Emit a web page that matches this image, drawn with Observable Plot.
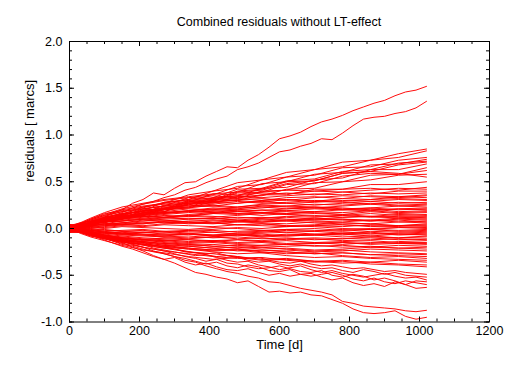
<!DOCTYPE html>
<html><head><meta charset="utf-8">
<script src="https://cdn.jsdelivr.net/npm/d3@7"></script>
<script src="https://cdn.jsdelivr.net/npm/@observablehq/plot@0.6"></script>
<style>
body{margin:0;background:#fff;font-family:"Liberation Sans",Arial,sans-serif;}
#title{width:532px;height:30px;box-sizing:border-box;padding:14px 43px 0 69px;line-height:16px;text-align:center;font-size:12.5px;color:#000;}
</style></head>
<body>
<div id="title">Combined residuals without LT-effect</div>
<div id="chart"></div>
<script>
// time grids (days)
const days = [0,30,60,100,150,210,270,340,410,480,550,620,700,780,860,940,1020];
const daysFine = [0,30,60,90,120,150,180,210,240,270,300,330,360,390,420,450,480,510,540,570,600,630,660,690,720,750,780,810,840,870,900,930,960,990,1020];

// outer lines, sampled on daysFine
const top1 = [0.01,0.03,0.05,0.10,0.16,0.20,0.27,0.31,0.38,0.36,0.43,0.49,0.50,0.56,0.61,0.66,0.65,0.73,0.79,0.87,0.96,0.99,1.03,1.09,1.14,1.17,1.21,1.26,1.30,1.34,1.37,1.42,1.46,1.48,1.52];
const top2 = [0.00,0.02,0.04,0.09,0.13,0.17,0.22,0.26,0.29,0.33,0.36,0.41,0.44,0.49,0.53,0.56,0.63,0.66,0.70,0.76,0.82,0.84,0.88,0.91,0.96,0.95,1.02,1.10,1.17,1.19,1.20,1.23,1.25,1.29,1.36];
const bottom1 = [-0.01,-0.02,-0.05,-0.08,-0.12,-0.15,-0.20,-0.24,-0.29,-0.33,-0.37,-0.42,-0.47,-0.49,-0.52,-0.54,-0.58,-0.56,-0.62,-0.68,-0.67,-0.69,-0.68,-0.71,-0.72,-0.76,-0.80,-0.86,-0.90,-0.91,-0.90,-0.88,-0.94,-0.97,-0.95];
const bottom2 = [0.00,-0.02,-0.04,-0.07,-0.10,-0.13,-0.17,-0.20,-0.24,-0.27,-0.30,-0.34,-0.36,-0.40,-0.43,-0.46,-0.48,-0.51,-0.53,-0.57,-0.58,-0.61,-0.64,-0.66,-0.68,-0.71,-0.78,-0.80,-0.83,-0.84,-0.85,-0.86,-0.88,-0.89,-0.875];
const low1 = [-0.02,-0.04,-0.07,-0.11,-0.15,-0.19,-0.22,-0.26,-0.30,-0.33,-0.31,-0.36,-0.39,-0.37,-0.41,-0.44,-0.45,-0.43,-0.47,-0.50,-0.48,-0.51,-0.49,-0.48,-0.52,-0.55,-0.53,-0.58,-0.61,-0.59,-0.62,-0.57,-0.60,-0.64,-0.63];
const low2 = [0.01,-0.03,-0.05,-0.09,-0.13,-0.17,-0.19,-0.22,-0.25,-0.27,-0.30,-0.32,-0.35,-0.38,-0.36,-0.40,-0.42,-0.39,-0.41,-0.45,-0.46,-0.44,-0.49,-0.51,-0.49,-0.47,-0.50,-0.54,-0.56,-0.53,-0.57,-0.59,-0.56,-0.58,-0.60];
const low3 = [-0.01,-0.02,-0.05,-0.08,-0.11,-0.14,-0.17,-0.20,-0.22,-0.24,-0.27,-0.30,-0.32,-0.35,-0.33,-0.37,-0.38,-0.41,-0.43,-0.42,-0.40,-0.43,-0.46,-0.47,-0.45,-0.50,-0.52,-0.49,-0.51,-0.55,-0.53,-0.56,-0.60,-0.56,-0.57];
const low4 = [0.03,0.00,-0.03,-0.07,-0.10,-0.13,-0.15,-0.17,-0.21,-0.23,-0.25,-0.27,-0.29,-0.28,-0.31,-0.34,-0.36,-0.35,-0.39,-0.41,-0.44,-0.42,-0.40,-0.44,-0.47,-0.45,-0.48,-0.50,-0.52,-0.50,-0.48,-0.51,-0.53,-0.52,-0.55];
const low5 = [0.00,-0.02,-0.04,-0.06,-0.09,-0.11,-0.13,-0.15,-0.18,-0.20,-0.22,-0.25,-0.26,-0.28,-0.30,-0.29,-0.31,-0.34,-0.36,-0.35,-0.38,-0.40,-0.38,-0.41,-0.43,-0.42,-0.45,-0.47,-0.44,-0.46,-0.49,-0.47,-0.50,-0.51,-0.52];
const low6 = [-0.03,-0.03,-0.05,-0.08,-0.10,-0.12,-0.15,-0.17,-0.19,-0.21,-0.22,-0.24,-0.26,-0.27,-0.26,-0.29,-0.30,-0.32,-0.31,-0.34,-0.36,-0.37,-0.35,-0.38,-0.40,-0.39,-0.41,-0.43,-0.42,-0.44,-0.46,-0.45,-0.47,-0.48,-0.49];

// remaining lines, sampled on days
const upper1 = [0.01,0.04,0.05,0.12,0.15,0.23,0.27,0.36,0.40,0.49,0.52,0.60,0.63,0.71,0.73,0.80,0.85];
const upper2 = [0.00,0.01,0.06,0.08,0.15,0.19,0.28,0.31,0.40,0.43,0.52,0.55,0.63,0.66,0.73,0.76,0.83];
const upper3 = [-0.01,0.03,0.04,0.11,0.13,0.21,0.24,0.33,0.36,0.45,0.47,0.55,0.57,0.65,0.66,0.73,0.76];
const upper4 = [0.02,0.02,0.06,0.07,0.14,0.16,0.25,0.28,0.37,0.39,0.48,0.50,0.58,0.60,0.68,0.69,0.74];
const upper5 = [0.00,0.03,0.03,0.09,0.11,0.19,0.21,0.30,0.33,0.42,0.43,0.51,0.53,0.61,0.63,0.70,0.72];
const upper6 = [-0.02,0.02,0.03,0.08,0.10,0.17,0.20,0.28,0.30,0.39,0.41,0.48,0.51,0.59,0.61,0.68,0.71];
const upper7 = [0.01,0.02,0.07,0.08,0.13,0.15,0.22,0.25,0.33,0.35,0.43,0.44,0.52,0.54,0.63,0.63,0.69];
const upper8 = [0.00,0.03,0.03,0.09,0.10,0.17,0.18,0.27,0.29,0.38,0.39,0.47,0.48,0.56,0.59,0.58,0.65];
const upper9 = [-0.01,0.01,0.05,0.06,0.12,0.14,0.21,0.23,0.31,0.32,0.40,0.41,0.49,0.50,0.57,0.58,0.62];
const upper10 = [0.01,0.03,0.04,0.10,0.11,0.19,0.20,0.29,0.31,0.40,0.42,0.50,0.51,0.59,0.61,0.59,0.55];
const upper11 = [0.00,0.02,0.06,0.06,0.12,0.14,0.20,0.22,0.29,0.30,0.36,0.36,0.42,0.42,0.47,0.47,0.50];
const upper12 = [-0.01,0.02,0.02,0.09,0.10,0.17,0.18,0.26,0.27,0.34,0.35,0.42,0.43,0.50,0.52,0.57,0.58];

const core01 = [0.03,0.06,0.11,0.17,0.23,0.27,0.31,0.34,0.37,0.36,0.39,0.41,0.40,0.42,0.43,0.41,0.44];
const core02 = [0.00,0.05,0.10,0.15,0.21,0.26,0.30,0.33,0.32,0.35,0.38,0.37,0.40,0.39,0.41,0.43,0.42];
const core03 = [-0.03,0.04,0.09,0.14,0.20,0.24,0.27,0.31,0.35,0.33,0.36,0.38,0.36,0.39,0.37,0.40,0.40];
const core04 = [0.02,0.06,0.08,0.13,0.18,0.22,0.28,0.30,0.31,0.34,0.33,0.35,0.37,0.36,0.38,0.37,0.38];
const core05 = [0.04,0.04,0.07,0.12,0.16,0.21,0.24,0.27,0.30,0.32,0.30,0.33,0.34,0.32,0.35,0.34,0.36];
const core06 = [0.01,0.05,0.10,0.16,0.19,0.23,0.26,0.29,0.28,0.31,0.32,0.30,0.33,0.35,0.34,0.33,0.35];
const core07 = [-0.04,0.03,0.07,0.11,0.15,0.19,0.22,0.26,0.28,0.27,0.30,0.31,0.29,0.32,0.31,0.34,0.33];
const core08 = [0.01,0.04,0.06,0.12,0.16,0.18,0.23,0.24,0.26,0.29,0.27,0.28,0.30,0.29,0.31,0.32,0.31];
const core09 = [0.00,0.05,0.08,0.10,0.14,0.20,0.21,0.25,0.24,0.27,0.29,0.27,0.28,0.30,0.29,0.31,0.30];
const core10 = [-0.03,0.02,0.06,0.11,0.13,0.17,0.20,0.22,0.25,0.23,0.26,0.27,0.25,0.27,0.29,0.27,0.28];
const core11 = [0.02,0.05,0.09,0.14,0.18,0.21,0.24,0.27,0.29,0.30,0.28,0.31,0.29,0.28,0.26,0.28,0.27];
const core12 = [0.00,0.03,0.05,0.09,0.12,0.15,0.18,0.21,0.20,0.23,0.25,0.24,0.26,0.25,0.27,0.25,0.26];
const core13 = [0.01,0.04,0.06,0.08,0.13,0.16,0.17,0.19,0.22,0.21,0.24,0.23,0.22,0.24,0.26,0.24,0.25];
const core14 = [0.03,0.02,0.07,0.10,0.14,0.13,0.16,0.19,0.21,0.20,0.22,0.24,0.23,0.21,0.22,0.24,0.23];
const core15 = [0.01,0.03,0.04,0.08,0.11,0.14,0.16,0.18,0.17,0.20,0.19,0.21,0.23,0.22,0.20,0.21,0.22];
const core16 = [0.00,0.04,0.06,0.07,0.10,0.12,0.15,0.17,0.19,0.18,0.20,0.19,0.21,0.20,0.22,0.20,0.21];
const core17 = [-0.04,0.01,0.04,0.08,0.09,0.11,0.14,0.13,0.16,0.18,0.17,0.19,0.18,0.20,0.19,0.21,0.20];
const core18 = [0.01,0.05,0.08,0.12,0.15,0.18,0.21,0.23,0.24,0.22,0.23,0.21,0.22,0.20,0.21,0.18,0.19];
const core19 = [0.00,0.02,0.03,0.05,0.08,0.10,0.12,0.14,0.16,0.15,0.17,0.16,0.18,0.17,0.19,0.17,0.18];
const core20 = [0.04,0.03,0.05,0.07,0.10,0.13,0.12,0.15,0.17,0.16,0.14,0.16,0.17,0.15,0.18,0.16,0.17];
const core21 = [0.00,0.02,0.04,0.07,0.08,0.10,0.11,0.13,0.12,0.14,0.16,0.15,0.13,0.14,0.16,0.14,0.15];
const core22 = [-0.01,0.03,0.05,0.09,0.12,0.14,0.17,0.18,0.20,0.19,0.17,0.18,0.16,0.15,0.13,0.15,0.14];
const core23 = [0.04,0.02,0.03,0.04,0.06,0.08,0.10,0.11,0.10,0.12,0.11,0.13,0.12,0.14,0.12,0.13,0.13];
const core24 = [0.00,0.01,0.03,0.05,0.06,0.09,0.08,0.10,0.11,0.09,0.11,0.12,0.10,0.12,0.13,0.11,0.12];
const core25 = [0.01,0.04,0.07,0.10,0.13,0.15,0.17,0.19,0.18,0.16,0.17,0.15,0.14,0.12,0.13,0.12,0.11];
const core26 = [-0.03,0.00,0.02,0.03,0.05,0.07,0.06,0.08,0.09,0.08,0.10,0.09,0.11,0.10,0.09,0.11,0.10];
const core27 = [0.00,0.01,0.00,0.02,0.04,0.05,0.07,0.06,0.08,0.07,0.09,0.08,0.10,0.09,0.08,0.10,0.09];
const core28 = [0.01,0.02,0.04,0.05,0.04,0.06,0.08,0.07,0.06,0.08,0.07,0.09,0.08,0.07,0.09,0.07,0.08];
const core29 = [0.00,0.03,0.06,0.09,0.11,0.13,0.12,0.14,0.13,0.11,0.12,0.10,0.09,0.10,0.08,0.09,0.07];
const core30 = [-0.04,0.00,0.01,0.03,0.04,0.03,0.05,0.06,0.05,0.07,0.06,0.05,0.07,0.06,0.05,0.07,0.06];
const core31 = [0.03,-0.01,-0.03,-0.05,-0.06,-0.04,-0.05,-0.02,-0.01,0.01,0.00,0.02,0.03,0.02,0.04,0.03,0.05];
const core32 = [0.00,0.02,0.03,0.04,0.06,0.05,0.07,0.05,0.06,0.04,0.05,0.03,0.04,0.06,0.05,0.03,0.04];
const core33 = [-0.01,0.01,0.02,0.01,0.03,0.02,0.04,0.03,0.02,0.04,0.03,0.02,0.03,0.04,0.02,0.03,0.03];
const core34 = [0.04,0.00,-0.02,-0.04,-0.06,-0.07,-0.08,-0.06,-0.07,-0.05,-0.04,-0.02,-0.03,-0.01,0.00,0.01,0.02];
const core35 = [0.00,0.03,0.06,0.08,0.11,0.13,0.12,0.10,0.11,0.09,0.07,0.08,0.06,0.04,0.03,0.02,0.01];
const core36 = [0.01,0.02,0.01,0.00,0.02,0.01,0.00,-0.01,0.01,0.00,-0.02,-0.01,0.00,-0.02,-0.01,0.01,0.00];
const core37 = [-0.04,0.00,-0.02,-0.01,-0.03,-0.02,-0.04,-0.03,-0.02,-0.04,-0.03,-0.01,-0.02,-0.03,-0.01,-0.02,-0.01];
const core38 = [0.00,0.03,0.05,0.07,0.08,0.10,0.09,0.07,0.06,0.04,0.05,0.03,0.02,0.00,-0.01,-0.03,-0.02];
const core39 = [0.01,0.00,-0.01,-0.03,-0.02,-0.01,-0.03,-0.02,-0.04,-0.03,-0.02,-0.04,-0.03,-0.05,-0.03,-0.04,-0.03];
const core40 = [-0.04,-0.04,-0.07,-0.09,-0.11,-0.12,-0.10,-0.11,-0.09,-0.07,-0.08,-0.06,-0.07,-0.05,-0.06,-0.05,-0.04];
const core41 = [0.00,0.01,0.00,-0.02,-0.03,-0.04,-0.03,-0.05,-0.04,-0.06,-0.05,-0.04,-0.06,-0.05,-0.04,-0.06,-0.05];
const core42 = [0.03,-0.01,-0.02,-0.04,-0.05,-0.04,-0.06,-0.05,-0.07,-0.06,-0.08,-0.07,-0.06,-0.07,-0.05,-0.07,-0.06];
const core43 = [-0.01,-0.02,-0.03,-0.05,-0.04,-0.06,-0.07,-0.06,-0.08,-0.07,-0.06,-0.08,-0.07,-0.06,-0.08,-0.06,-0.07];
const core44 = [0.00,-0.03,-0.05,-0.08,-0.10,-0.12,-0.13,-0.12,-0.14,-0.12,-0.13,-0.11,-0.10,-0.11,-0.09,-0.10,-0.08];
const core45 = [0.04,0.01,-0.01,-0.03,-0.05,-0.06,-0.07,-0.06,-0.08,-0.07,-0.09,-0.08,-0.07,-0.09,-0.08,-0.10,-0.09];
const core46 = [0.00,-0.02,-0.04,-0.05,-0.07,-0.08,-0.09,-0.08,-0.10,-0.09,-0.11,-0.10,-0.12,-0.11,-0.10,-0.12,-0.11];
const core47 = [-0.03,0.00,-0.02,-0.04,-0.06,-0.07,-0.09,-0.10,-0.09,-0.11,-0.10,-0.12,-0.11,-0.13,-0.12,-0.11,-0.12];
const core48 = [0.01,-0.02,-0.05,-0.08,-0.11,-0.14,-0.16,-0.18,-0.17,-0.19,-0.18,-0.17,-0.16,-0.15,-0.16,-0.14,-0.13];
const core49 = [0.00,-0.01,-0.04,-0.06,-0.08,-0.10,-0.11,-0.12,-0.13,-0.12,-0.14,-0.13,-0.15,-0.14,-0.13,-0.15,-0.15];
const core50 = [-0.04,-0.03,-0.05,-0.07,-0.09,-0.11,-0.12,-0.14,-0.13,-0.15,-0.14,-0.16,-0.15,-0.17,-0.15,-0.16,-0.16];
const core51 = [0.01,-0.01,-0.04,-0.07,-0.10,-0.12,-0.13,-0.15,-0.14,-0.16,-0.15,-0.17,-0.16,-0.15,-0.17,-0.16,-0.17];
const core52 = [0.00,-0.02,-0.05,-0.08,-0.10,-0.13,-0.14,-0.16,-0.15,-0.17,-0.18,-0.17,-0.19,-0.18,-0.20,-0.18,-0.19];
const core53 = [-0.03,-0.04,-0.06,-0.09,-0.12,-0.14,-0.16,-0.17,-0.19,-0.18,-0.20,-0.19,-0.18,-0.20,-0.19,-0.21,-0.20];
const core54 = [0.01,-0.03,-0.06,-0.10,-0.13,-0.15,-0.18,-0.19,-0.21,-0.20,-0.22,-0.21,-0.23,-0.22,-0.20,-0.21,-0.22];
const core55 = [0.00,-0.04,-0.08,-0.11,-0.15,-0.17,-0.19,-0.21,-0.23,-0.22,-0.24,-0.23,-0.25,-0.24,-0.22,-0.23,-0.24];

const lowmid1 = [0.01,-0.03,-0.07,-0.11,-0.16,-0.20,-0.24,-0.27,-0.30,-0.32,-0.31,-0.34,-0.36,-0.35,-0.38,-0.39,-0.41];
const lowmid2 = [-0.04,-0.04,-0.08,-0.10,-0.14,-0.18,-0.21,-0.25,-0.27,-0.30,-0.33,-0.32,-0.35,-0.37,-0.36,-0.38,-0.39];
const lowmid3 = [0.00,-0.05,-0.09,-0.13,-0.18,-0.23,-0.26,-0.30,-0.33,-0.31,-0.34,-0.33,-0.35,-0.34,-0.36,-0.34,-0.36];
const lowmid4 = [0.04,-0.01,-0.05,-0.09,-0.12,-0.16,-0.20,-0.22,-0.25,-0.27,-0.26,-0.29,-0.31,-0.30,-0.32,-0.33,-0.34];
const lowmid5 = [-0.01,-0.03,-0.06,-0.10,-0.13,-0.15,-0.18,-0.21,-0.23,-0.22,-0.25,-0.27,-0.26,-0.29,-0.31,-0.30,-0.32];
const lowmid6 = [0.01,-0.02,-0.05,-0.08,-0.12,-0.14,-0.17,-0.19,-0.21,-0.24,-0.23,-0.25,-0.27,-0.26,-0.28,-0.29,-0.30];
const lowmid7 = [0.00,-0.03,-0.07,-0.11,-0.14,-0.17,-0.19,-0.22,-0.24,-0.23,-0.26,-0.25,-0.27,-0.26,-0.28,-0.27,-0.28];
const lowmid8 = [-0.02,-0.03,-0.05,-0.07,-0.10,-0.12,-0.15,-0.17,-0.19,-0.21,-0.20,-0.22,-0.24,-0.23,-0.25,-0.26,-0.27];

const fineSeries = [top1,top2,bottom1,bottom2,low1,low2,low3,low4,low5,low6];
const coarseSeries = [upper1,upper2,upper3,upper4,upper5,upper6,upper7,upper8,upper9,upper10,upper11,upper12,
  core01,core02,core03,core04,core05,core06,core07,core08,core09,core10,core11,core12,core13,core14,core15,core16,core17,core18,core19,core20,
  core21,core22,core23,core24,core25,core26,core27,core28,core29,core30,core31,core32,core33,core34,core35,core36,core37,core38,core39,core40,
  core41,core42,core43,core44,core45,core46,core47,core48,core49,core50,core51,core52,core53,core54,core55,
  lowmid1,lowmid2,lowmid3,lowmid4,lowmid5,lowmid6,lowmid7,lowmid8];

const xMajorTicks = [0,200,400,600,800,1000,1200];
const yMajorTicks = [-1.0,-0.5,0.0,0.5,1.0,1.5,2.0];
const xMinorTicks = d3.range(0, 1201, 50);
const yMinorTicks = d3.range(-10, 21).map(d => d / 10);

const table = [
  ...fineSeries.flatMap((vals, i) => vals.map((v, j) => ({s: "f" + i, t: daysFine[j], v}))),
  ...coarseSeries.flatMap((vals, i) => vals.map((v, j) => ({s: "c" + i, t: days[j], v})))
];

const H = 340, mT = 11, mB = 48.5, mL = 69, mR = 43;
const fh = H - mT - mB, fw = 532 - mL - mR;
const majorLen = 5, minorLen = 3;

const chart = Plot.plot({
  width: 532, height: H,
  marginTop: mT, marginBottom: mB, marginLeft: mL, marginRight: mR,
  style: {fontFamily: '"Liberation Sans", Arial, sans-serif', fontSize: "12.5px", color: "#000", background: "#fff"},
  x: {domain: [0, 1200], axis: null},
  y: {domain: [-1, 2], axis: null},
  marks: [
    Plot.line(table, {x: "t", y: "v", z: "s", stroke: "#ff0000", strokeWidth: 0.95, curve: "linear"}),
    Plot.frame({stroke: "#000", strokeWidth: 1}),
    Plot.tickX(xMinorTicks, {x: d => d, insetTop: fh - minorLen, stroke: "#000"}),
    Plot.tickX(xMinorTicks, {x: d => d, insetBottom: fh - minorLen, stroke: "#000"}),
    Plot.tickX(xMajorTicks, {x: d => d, insetTop: fh - majorLen, stroke: "#000"}),
    Plot.tickX(xMajorTicks, {x: d => d, insetBottom: fh - majorLen, stroke: "#000"}),
    Plot.tickY(yMinorTicks, {y: d => d, insetRight: fw - minorLen, stroke: "#000"}),
    Plot.tickY(yMinorTicks, {y: d => d, insetLeft: fw - minorLen, stroke: "#000"}),
    Plot.tickY(yMajorTicks, {y: d => d, insetRight: fw - majorLen, stroke: "#000"}),
    Plot.tickY(yMajorTicks, {y: d => d, insetLeft: fw - majorLen, stroke: "#000"}),
    Plot.axisX({ticks: xMajorTicks, tickSize: 0, tickPadding: 4, tickFormat: d => String(d), anchor: "bottom", label: null}),
    Plot.axisY({ticks: yMajorTicks, tickSize: 0, tickPadding: 7, tickFormat: d => d.toFixed(1), anchor: "left", label: null}),
    Plot.text(["Time [d]"], {frameAnchor: "bottom", dy: 23, fontSize: 13, lineAnchor: "middle"}),
    Plot.text(["residuals [ marcs]"], {frameAnchor: "left", dx: -40, rotate: -90, fontSize: 13, lineAnchor: "middle"})
  ]
});
document.getElementById("chart").appendChild(chart);
</script>
</body></html>
